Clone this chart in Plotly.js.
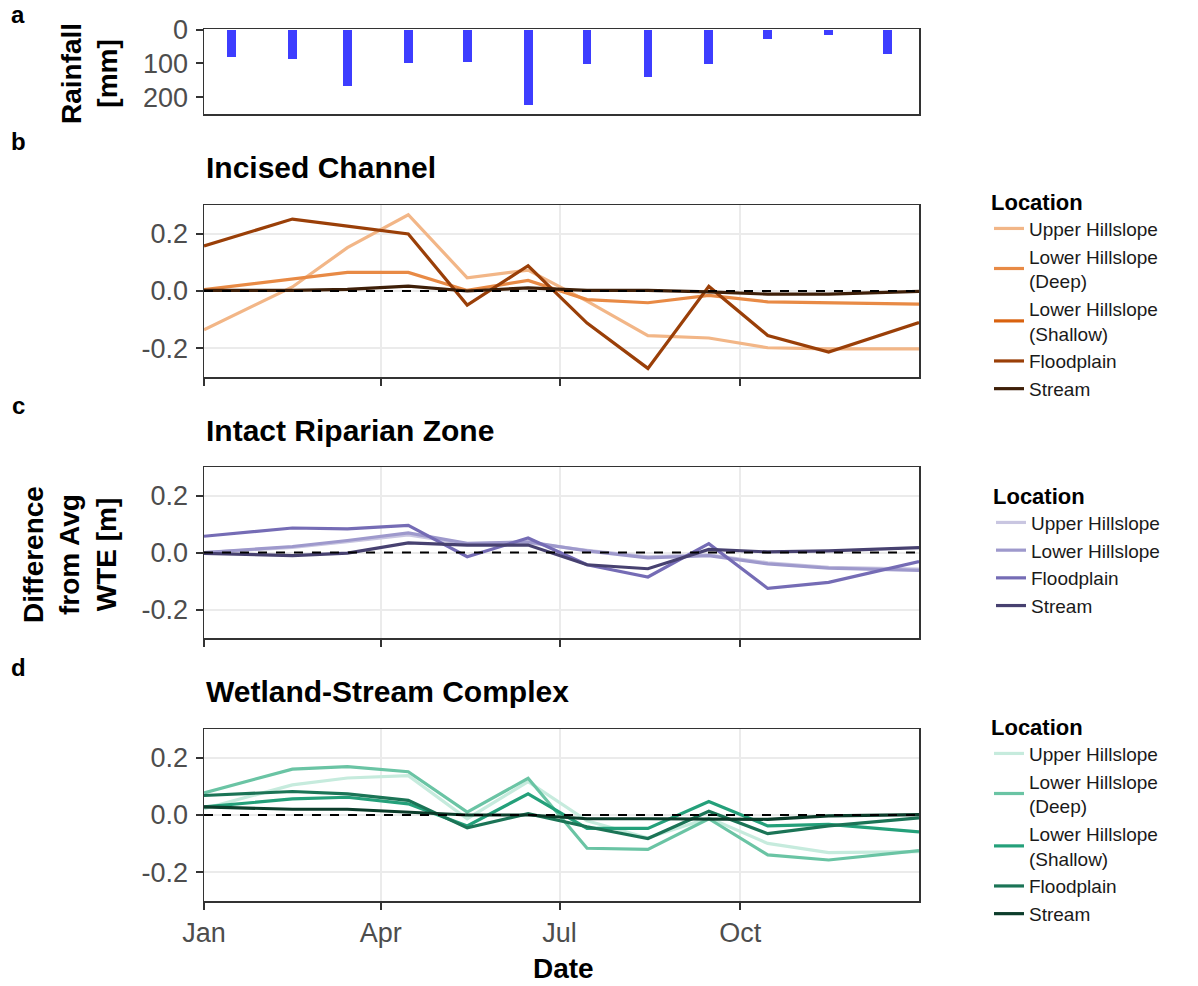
<!DOCTYPE html>
<html>
<head>
<meta charset="utf-8">
<script src="https://cdn.plot.ly/plotly-3.0.1.min.js"></script>
<style>html,body{margin:0;padding:0;background:#fff;} #chart{width:1198px;height:986px;}</style>
</head>
<body>
<div id="chart"></div>
<script>
// ---------- data ----------
const rainDates = ["2021-01-15","2021-02-15","2021-03-15","2021-04-15","2021-05-15","2021-06-15","2021-07-15","2021-08-15","2021-09-15","2021-10-15","2021-11-15","2021-12-15"];
const rainfall = [80, 87, 167, 100, 95, 223, 102, 140, 102, 28, 16, 71];

const wteDates = ["2021-01-01","2021-02-15","2021-03-15","2021-04-15","2021-05-15","2021-06-15","2021-07-15","2021-08-15","2021-09-15","2021-10-15","2021-11-15","2021-12-31"];

// Incised Channel
const icUpper   = [-0.135, 0.014, 0.151, 0.266, 0.046, 0.073, -0.035, -0.156, -0.164, -0.198, -0.202, -0.202];
const icDeep    = [0.005, 0.042, 0.065, 0.065, 0.002, 0.037, -0.030, -0.041, -0.015, -0.038, -0.041, -0.046];
const icShallow = [null, null, null, null, null, null, null, null, null, null, null, null];
const icFlood   = [0.157, 0.251, 0.226, 0.199, -0.049, 0.088, -0.112, -0.270, 0.016, -0.155, -0.213, -0.110];
const icStream  = [0.002, 0.002, 0.006, 0.017, 0.000, 0.011, 0.002, 0.002, -0.003, -0.011, -0.011, -0.001];

// Intact Riparian Zone
const irUpper  = [0.000, 0.018, 0.038, 0.062, 0.030, 0.034, 0.008, -0.015, -0.008, -0.036, -0.052, -0.058];
const irLower  = [0.000, 0.021, 0.042, 0.069, 0.032, 0.037, 0.006, -0.019, -0.011, -0.040, -0.055, -0.063];
const irFlood  = [0.057, 0.086, 0.083, 0.095, -0.015, 0.051, -0.043, -0.086, 0.031, -0.126, -0.105, -0.032];
const irStream = [-0.003, -0.011, -0.002, 0.034, 0.026, 0.026, -0.043, -0.057, 0.011, 0.002, 0.006, 0.017];

// Wetland-Stream Complex
const wsUpper   = [0.022, 0.105, 0.129, 0.137, -0.013, 0.116, -0.020, -0.080, -0.010, -0.099, -0.131, -0.128];
const wsDeep    = [0.077, 0.160, 0.169, 0.151, 0.010, 0.128, -0.116, -0.120, -0.013, -0.139, -0.157, -0.124];
const wsShallow = [0.028, 0.056, 0.062, 0.039, -0.038, 0.074, -0.047, -0.047, 0.047, -0.038, -0.033, -0.059];
const wsFlood   = [0.068, 0.082, 0.074, 0.051, -0.045, 0.005, -0.041, -0.082, 0.013, -0.065, -0.038, -0.010];
const wsStream  = [0.028, 0.020, 0.020, 0.010, 0.000, 0.000, -0.013, -0.013, -0.013, -0.015, -0.003, 0.001];

const wteTickVals = [-0.2, 0, 0.2];
const wteTickText = ["-0.2", "0.0", "0.2"];
const rainTickVals = [0, 100, 200];
const rainTickText = ["0", "100", "200"];
const monthTickFormat = "%b";

// ---------- styling ----------
const FONT = "Liberation Sans, Arial, Helvetica, sans-serif";
const tickFont = {family: FONT, size: 27, color: "#4D4D4D"};
const legFont = {family: FONT, size: 19, color: "#1a1a1a"};
const LW = 3.2;

function line(x, y, name, color, xa, ya, leg) {
  return {type: "scatter", mode: "lines", x: x, y: y, name: name,
          line: {color: color, width: LW}, xaxis: xa, yaxis: ya, legend: leg,
          connectgaps: false, hoverinfo: "x+y+name"};
}

const traces = [
  {type: "bar", x: rainDates, y: rainfall, marker: {color: "#3D3DFF"}, width: 4.5 * 86400000,
   xaxis: "x", yaxis: "y", showlegend: false, name: "Rainfall"},

  line(wteDates, icUpper,   "Upper Hillslope",            "#F2B687", "x2", "y2", "legend"),
  line(wteDates, icDeep,    "Lower Hillslope<br>(Deep)",  "#E88A45", "x2", "y2", "legend"),
  line(wteDates, icShallow, "Lower Hillslope<br>(Shallow)","#D9620F", "x2", "y2", "legend"),
  line(wteDates, icFlood,   "Floodplain",                 "#9A3F08", "x2", "y2", "legend"),
  line(wteDates, icStream,  "Stream",                     "#3E1F08", "x2", "y2", "legend"),

  line(wteDates, irUpper,   "Upper Hillslope", "#C9C6E1", "x3", "y3", "legend2"),
  line(wteDates, irLower,   "Lower Hillslope", "#9E99CC", "x3", "y3", "legend2"),
  line(wteDates, irFlood,   "Floodplain",      "#756CB5", "x3", "y3", "legend2"),
  line(wteDates, irStream,  "Stream",          "#474170", "x3", "y3", "legend2"),

  line(wteDates, wsUpper,   "Upper Hillslope",             "#C6EBDD", "x4", "y4", "legend3"),
  line(wteDates, wsDeep,    "Lower Hillslope<br>(Deep)",   "#6AC4A4", "x4", "y4", "legend3"),
  line(wteDates, wsShallow, "Lower Hillslope<br>(Shallow)","#24A07A", "x4", "y4", "legend3"),
  line(wteDates, wsFlood,   "Floodplain",                  "#1B7456", "x4", "y4", "legend3"),
  line(wteDates, wsStream,  "Stream",                      "#0C3D2B", "x4", "y4", "legend3")
];

const W = 1198, H = 986;
const xDom = [204 / W, 919 / W];
function yDom(top, bottom) { return [1 - bottom / H, 1 - top / H]; }

function xAxis(yref, showLabels, showTicks, showGrid) {
  return {type: "date", domain: xDom, anchor: yref,
          range: ["2021-01-01", "2021-12-31"], dtick: "M3", tick0: "2021-01-01",
          tickformat: monthTickFormat, showticklabels: showLabels, tickfont: tickFont,
          showline: true, mirror: true, linecolor: "#333333", linewidth: 1.5,
          ticks: showTicks ? "outside" : "", ticklen: 7, tickwidth: 2, tickcolor: "#333333",
          showgrid: showGrid, gridcolor: "#EBEBEB", gridwidth: 2, zeroline: false,
          automargin: false, fixedrange: true};
}
function yAxis(xref, dom, range, tv, tt, showGrid) {
  return {domain: dom, anchor: xref, range: range, tickvals: tv, ticktext: tt,
          tickfont: tickFont, showline: true, mirror: true, linecolor: "#333333", linewidth: 1.5,
          ticks: "outside", ticklen: 7, tickwidth: 2, tickcolor: "#333333",
          showgrid: showGrid, gridcolor: "#EBEBEB", gridwidth: 2, zeroline: false,
          automargin: false, fixedrange: true, ticklabelstandoff: 2};
}

function zeroLine(xr, yr) {
  return {type: "line", xref: xr + " domain", yref: yr, x0: 0, x1: 1, y0: 0, y1: 0,
          line: {color: "#000000", width: 1.8, dash: "dash"}, layer: "above"};
}

function ann(text, xpx, ypx, size, opts) {
  return Object.assign({text: text, x: xpx / W, y: 1 - ypx / H, xref: "paper", yref: "paper",
    showarrow: false, font: {family: FONT, size: size, color: "#000000"}}, opts || {});
}

const legendBase = {font: legFont, bgcolor: "rgba(0,0,0,0)", borderwidth: 0,
  xanchor: "left", yanchor: "top", itemwidth: 30, tracegroupgap: 0,
  title: {text: "<b>Location</b>", font: {family: FONT, size: 22, color: "#000000"}}};

const layout = {
  width: W, height: H, margin: {l: 0, r: 0, t: 0, b: 0},
  paper_bgcolor: "#ffffff", plot_bgcolor: "#ffffff",
  showlegend: true, bargap: 0,
  font: {family: FONT},
  xaxis:  xAxis("y", false, false, false),
  yaxis:  yAxis("x", yDom(29, 114), [250, -2], rainTickVals, rainTickText, false),
  xaxis2: xAxis("y2", false, true, true),
  yaxis2: yAxis("x2", yDom(205, 377), [-0.3, 0.3], wteTickVals, wteTickText, true),
  xaxis3: xAxis("y3", false, true, true),
  yaxis3: yAxis("x3", yDom(467, 638), [-0.3, 0.3], wteTickVals, wteTickText, true),
  xaxis4: xAxis("y4", true, true, true),
  yaxis4: yAxis("x4", yDom(729, 901), [-0.3, 0.3], wteTickVals, wteTickText, true),
  legend:  Object.assign({}, legendBase, {x: 989 / W, y: 1 - 181 / H}),
  legend2: Object.assign({}, legendBase, {x: 991 / W, y: 1 - 475 / H}),
  legend3: Object.assign({}, legendBase, {x: 989 / W, y: 1 - 706 / H}),
  shapes: [zeroLine("x2", "y2"), zeroLine("x3", "y3"), zeroLine("x4", "y4")],
  annotations: [
    ann("<b>a</b>", 18, 14, 24, {xanchor: "center", yanchor: "middle"}),
    ann("<b>b</b>", 18, 141, 24, {xanchor: "center", yanchor: "middle"}),
    ann("<b>c</b>", 18, 405, 24, {xanchor: "center", yanchor: "middle"}),
    ann("<b>d</b>", 18, 667, 24, {xanchor: "center", yanchor: "middle"}),
    ann("<b>Incised Channel</b>", 204, 167, 30, {xanchor: "left", yanchor: "middle"}),
    ann("<b>Intact Riparian Zone</b>", 204, 430, 30, {xanchor: "left", yanchor: "middle"}),
    ann("<b>Wetland-Stream Complex</b>", 204, 691, 30, {xanchor: "left", yanchor: "middle"}),
    ann("<b>Rainfall<br>[mm]</b>", 89, 74, 28, {xanchor: "center", yanchor: "middle", textangle: -90}),
    ann("<b>Difference<br>from Avg<br>WTE [m]</b>", 70, 555, 28, {xanchor: "center", yanchor: "middle", textangle: -90}),
    ann("<b>Date</b>", 563, 968, 28, {xanchor: "center", yanchor: "middle"})
  ]
};

Plotly.newPlot("chart", traces, layout, {displayModeBar: false, staticPlot: true});
</script>
</body>
</html>
